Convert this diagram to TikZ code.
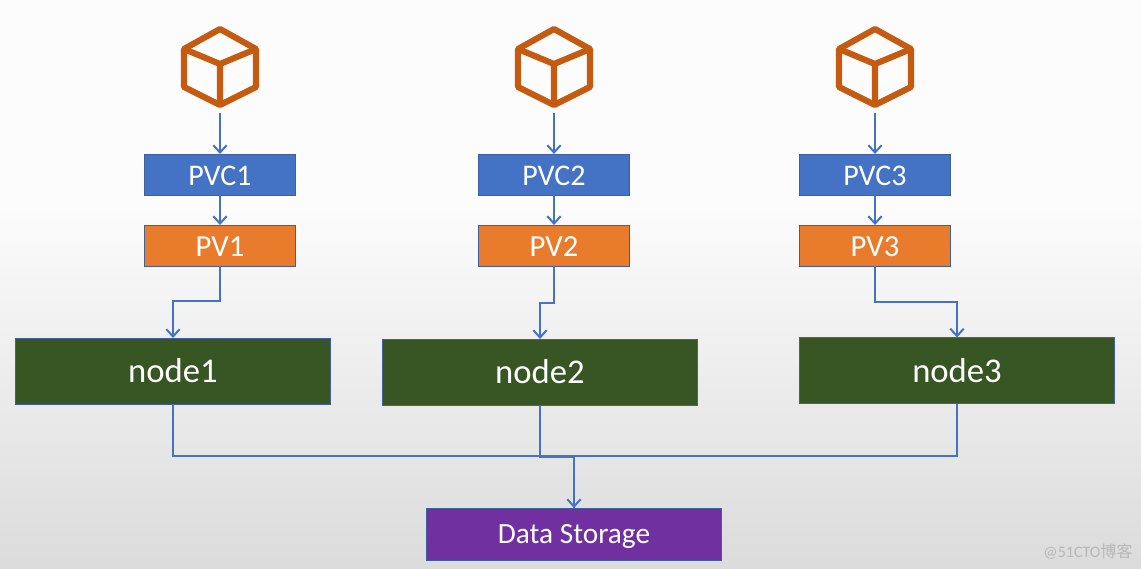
\documentclass[tikz,border=0pt]{standalone}
\usepackage{fontspec}
\setmainfont{Carlito}
\newfontfamily\cjk{Noto Sans CJK SC}
\usetikzlibrary{arrows.meta}
\definecolor{pvcblue}{HTML}{4472C4}
\definecolor{pvorange}{HTML}{E97C2C}
\definecolor{nodegreen}{HTML}{375623}
\definecolor{storepurple}{HTML}{7030A0}
\definecolor{cubebrown}{HTML}{C55A11}
\definecolor{edgeblue}{HTML}{3F5F9F}
\tikzset{
  box/.style={draw=edgeblue,line width=0.6pt,text=white,inner sep=0pt,outer sep=0pt},
  pvcbox/.style={box,fill=pvcblue,minimum width=113.5pt,minimum height=30.75pt,text height=17pt,text depth=0pt,font=\fontsize{22.5}{26}\selectfont},
  pvbox/.style={box,fill=pvorange,minimum width=113.5pt,minimum height=30.75pt,text height=17pt,text depth=0pt,font=\fontsize{23}{26}\selectfont},
  hostbox/.style={box,fill=nodegreen,minimum width=236pt,minimum height=49.5pt,font=\fontsize{26}{30}\selectfont},
  storebox/.style={box,fill=storepurple,minimum width=221.5pt,minimum height=39pt,text depth=0pt,font=\fontsize{22}{26}\selectfont},
  link/.style={draw=pvcblue,line width=1.5pt},
  cubeicon/.style={draw=cubebrown,line width=4.6pt,line join=round},
  >={Straight Barb[length=5.5pt,width=10pt,line width=1.5pt]}
}
\newcommand{\cubeat}[2]{
  \draw[cubeicon] (#1,#2-38) -- (#1+36,#2-18) -- (#1+36,#2+20) -- (#1,#2+38) -- (#1-36,#2+20) -- (#1-36,#2-18) -- cycle;
  \draw[cubeicon] (#1-36,#2-18) -- (#1,#2-3) -- (#1+36,#2-18) (#1,#2-3) -- (#1,#2+38);
}
\begin{document}
\begin{tikzpicture}[x=0.75pt,y=-0.75pt]

% background
\useasboundingbox (0,0) rectangle (1141,568);
\fill[white!99!black] (0,0) rectangle (1141,200);
\shade[top color=white!99!black,bottom color=white!86!black,shading angle=0] (0,199) rectangle (1141,568);

% volumes
\cubeat{220}{67}
\cubeat{554}{67}
\cubeat{875}{67}
\coordinate (cube1) at (220,113);
\coordinate (cube2) at (554,113);
\coordinate (cube3) at (875,113);

\node[pvcbox] (pvc1) at (220,174.5) {PVC1};
\node[pvcbox] (pvc2) at (554,174.5) {PVC2};
\node[pvcbox] (pvc3) at (875,174.5) {PVC3};

\node[pvbox] (pv1) at (220,245.5) {PV1};
\node[pvbox] (pv2) at (554,245.5) {PV2};
\node[pvbox] (pv3) at (875,245.5) {PV3};

\node[hostbox] (node1) at (173,371) {node1};
\node[hostbox] (node2) at (540,372) {node2};
\node[hostbox] (node3) at (957,370.5) {node3};

\node[storebox] (store) at (574,534) {Data Storage};

\node[text=black!28,font=\fontsize{12}{14}\selectfont,inner sep=0pt] (mark) at (1088,552) {@51CTO{\cjk 博客}};

% arrows
\draw[link,->] (cube1) -- (pvc1.north);
\draw[link,->] (cube2) -- (pvc2.north);
\draw[link,->] (cube3) -- (pvc3.north);
\draw[link,->] (pvc1) -- (pv1);
\draw[link,->] (pvc2) -- (pv2);
\draw[link,->] (pvc3) -- (pv3);

\draw[link,->] (pv1.south) -- ++(0,35) -| (node1.north);
\draw[link,->] (pv2.south) -- ++(0,37) -| (node2.north);
\draw[link,->] (pv3.south) -- ++(0,36) -| (node3.north);

\draw[link] (node1.south) -- ++(0,52) -| (store.north);
\draw[link] (node2.south) -- ++(0,52) -| (store.north);
\draw[link] (node3.south) -- ++(0,52) -| (store.north);
\draw[link,->] (574,456) -- (store.north);

\end{tikzpicture}
\end{document}
